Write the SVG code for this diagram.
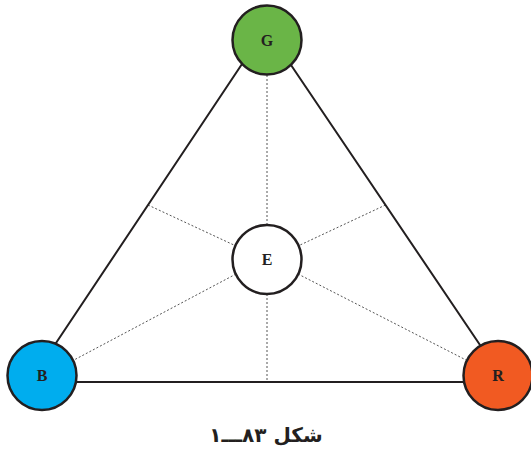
<svg xmlns="http://www.w3.org/2000/svg" width="531" height="450" viewBox="0 0 531 450">
  <style>
    .edge { stroke: #231f20; stroke-width: 2; fill: none; stroke-linecap: round; }
    .dot { stroke: #555; stroke-width: 1; stroke-dasharray: 2 2; fill: none; }
    .node { stroke: #231f20; stroke-width: 2.5; }
    .lbl { font-family: "Liberation Serif", "DejaVu Serif", serif; font-weight: bold; font-size: 16px; fill: #231f20; text-anchor: middle; }
    .cap { font-family: "DejaVu Sans", "Noto Sans", sans-serif; font-weight: bold; font-size: 20px; fill: #231f20; text-anchor: middle; }
  </style>
  <rect width="531" height="450" fill="#ffffff"/>
  <g id="connectors">
    <line class="dot" x1="267" y1="75" x2="267" y2="225"/>
    <line class="dot" x1="267" y1="294" x2="267" y2="382"/>
    <line class="dot" x1="148" y1="205" x2="236" y2="246"/>
    <line class="dot" x1="385.5" y1="205" x2="298" y2="246"/>
    <line class="dot" x1="236" y1="274" x2="74" y2="360"/>
    <line class="dot" x1="298" y1="274" x2="466" y2="360"/>
    <line class="edge" x1="266" y1="28" x2="30" y2="382"/>
    <line class="edge" x1="266" y1="28" x2="505" y2="382"/>
    <line class="edge" x1="30" y1="382" x2="505" y2="382"/>
  </g>
  <g id="node-G">
    <circle class="node" cx="267" cy="40" r="34.5" fill="#6ab547"/>
    <text class="lbl" x="267" y="46">G</text>
  </g>
  <g id="node-E">
    <circle class="node" cx="267" cy="259.5" r="34.5" fill="#ffffff"/>
    <text class="lbl" x="267" y="265">E</text>
  </g>
  <g id="node-B">
    <circle class="node" cx="42" cy="375.5" r="34.5" fill="#00adee"/>
    <text class="lbl" x="42" y="381">B</text>
  </g>
  <g id="node-R">
    <circle class="node" cx="498" cy="375.5" r="34.5" fill="#f15a22"/>
    <text class="lbl" x="498" y="381">R</text>
  </g>
  <text class="cap" x="266" y="442" direction="rtl">شکل ۸۳ـــ۱</text>
</svg>
